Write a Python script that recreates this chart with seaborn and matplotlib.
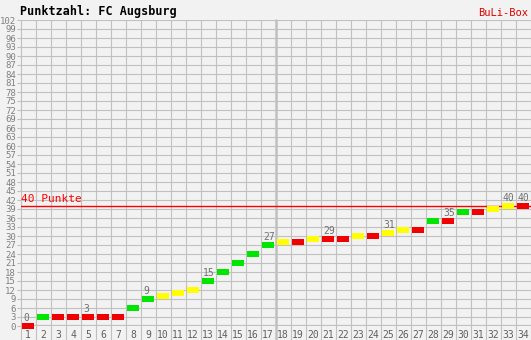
import matplotlib
matplotlib.use("Agg")
import matplotlib.pyplot as plt
import seaborn as sns
import numpy as np

matchdays = list(range(1, 35))
points = [0, 3, 3, 3, 3, 3, 3, 6, 9, 10, 11, 12, 15, 18, 21, 24, 27,
          28, 28, 29, 29, 29, 30, 30, 31, 32, 32, 35, 35, 38, 38, 39, 40, 40]
results = ["L", "W", "L", "L", "L", "L", "L", "W", "W", "D", "D", "D", "W", "W", "W", "W", "W",
           "D", "L", "D", "L", "L", "D", "L", "D", "D", "L", "W", "L", "W", "L", "D", "D", "L"]
label_days = [1, 5, 9, 13, 17, 21, 25, 29, 33, 34]
y_ticks = list(range(0, 103, 3))
title = "Punktzahl: FC Augsburg"
brand = "BuLi-Box"
target = 40
target_label = "40 Punkte"

sns.set_theme(style="white")
plt.rcParams['font.family'] = ['DejaVu Sans Mono', 'DejaVu Sans']

bg = "#f2f2f2"
grid_c = "#c0c0c0"
color_map = {"W": "#00e600", "D": "#ffff00", "L": "#f00000"}

fig = plt.figure(figsize=(5.31, 3.40), dpi=100, facecolor=bg)
W, H = 531, 340
x0, x1 = 20.7, 530.7
y0, y1 = 326.0, 20.0
ax = fig.add_axes([x0 / W, (H - y0) / H, (x1 - x0) / W, (y0 - y1) / H])
ax.set_facecolor(bg)
ax.set_xlim(0.5, 34.5)
ax.set_ylim(0, 102)

# horizontal grid
for yv in y_ticks:
    ax.axhline(yv, color=grid_c, lw=0.8, zorder=1)
ax.axhline(0, color=grid_c, lw=1.6, zorder=1)
# vertical grid extending into label strip
ext = (340 - y0) / (y0 - y1)
for xv in np.arange(0.5, 34.6, 1.0):
    lw = 1.8 if abs(xv - 17.5) < 1e-6 else 0.8
    ax.axvline(xv, ymin=-ext, ymax=1, color=grid_c, lw=lw, zorder=1, clip_on=False)

# target line
ax.axhline(target, color="#ff0000", lw=1.0, zorder=2)
ax.text(0.55, target + 0.8, target_label, color="#ff0000", fontsize=8, va="bottom", ha="left")

# bars
cols = [color_map[r] for r in results]
ax.bar(matchdays, 1.7, bottom=np.array(points) - 0.85, width=0.82,
       color=cols, zorder=3, clip_on=False, linewidth=0)

# value labels
for d in label_days:
    p = points[d - 1]
    ax.text(d - 0.35, p + 1.0, str(p), color="#707070", fontsize=7, ha="left", va="bottom", zorder=4)

# ticks
ax.set_yticks(y_ticks)
ax.set_yticklabels([str(v) for v in y_ticks], fontsize=6.5, color="#808080")
ax.tick_params(axis="y", length=3, color=grid_c, pad=0.5, width=0.8, left=True)
ax.set_xticks(matchdays)
ax.set_xticklabels([str(d) for d in matchdays], fontsize=7, color="#606060")
ax.tick_params(axis="x", length=0, pad=3)
for s in ax.spines.values():
    s.set_visible(False)
ax.grid(False)

fig.text(20 / W, 1 - 11 / H, title, fontsize=8.5, fontweight="bold", color="black",
         ha="left", va="center")
fig.text(528 / W, 1 - 13 / H, brand, fontsize=7.5, color="#dd0000", ha="right", va="center")

fig.savefig("out.png", dpi=100, facecolor=bg)
